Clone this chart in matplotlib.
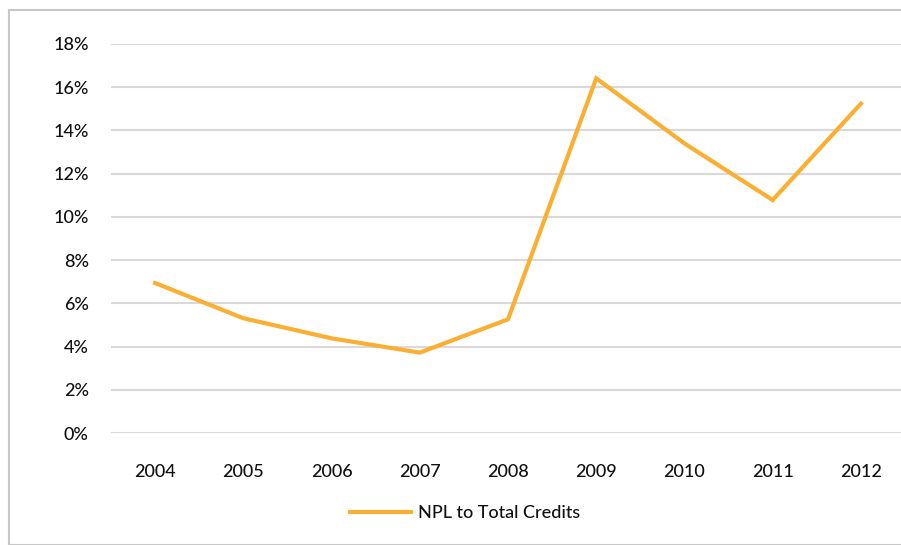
import matplotlib.pyplot as plt
from matplotlib.patches import Rectangle
from matplotlib.ticker import FuncFormatter

years = ["2004", "2005", "2006", "2007", "2008", "2009", "2010", "2011", "2012"]
npl = [6.94, 5.31, 4.38, 3.72, 5.26, 16.41, 13.4, 10.78, 15.24]

plt.rcParams['font.family'] = ['Lato', 'DejaVu Sans']

fig = plt.figure(figsize=(9.01, 5.45), dpi=100)
ax = fig.add_axes([111 / 901, 1 - 433 / 545, (905 - 111) / 901, (433 - 44) / 545])

# outer chart frame
fig.patches.append(Rectangle((9 / 901, 0.0), 1.0, 1 - 10 / 545, transform=fig.transFigure,
                             fill=False, edgecolor='#c8c8c8', linewidth=1.5))

x = list(range(len(years)))
ax.plot(x, npl, color='#FBAF32', linewidth=3, solid_joinstyle='miter',
        label='NPL to Total Credits')

ax.set_xlim(-0.5, len(years) - 0.5)
ax.set_ylim(0, 18)
ax.set_yticks(range(0, 19, 2))
ax.yaxis.set_major_formatter(FuncFormatter(lambda v, p: f"{int(v)}%"))
ax.set_xticks(x)
ax.set_xticklabels(years)

ax.grid(axis='y', color='#d9d9d9', linewidth=1.5)
ax.set_axisbelow(True)
for s in ax.spines.values():
    s.set_visible(False)
ax.tick_params(length=0, labelsize=13, colors='#111111')
ax.tick_params(axis='y', pad=16)
ax.tick_params(axis='x', pad=22)
for lbl in ax.get_xticklabels() + ax.get_yticklabels():
    lbl.set_fontweight('medium')

leg = fig.legend(loc='center', bbox_to_anchor=(465 / 901, 1 - 513 / 545), frameon=False,
                 fontsize=13, handlelength=3.4, handletextpad=0.4)
for t in leg.get_texts():
    t.set_color('#111111')
    t.set_fontweight('medium')

fig.savefig('out.png', dpi=100)
